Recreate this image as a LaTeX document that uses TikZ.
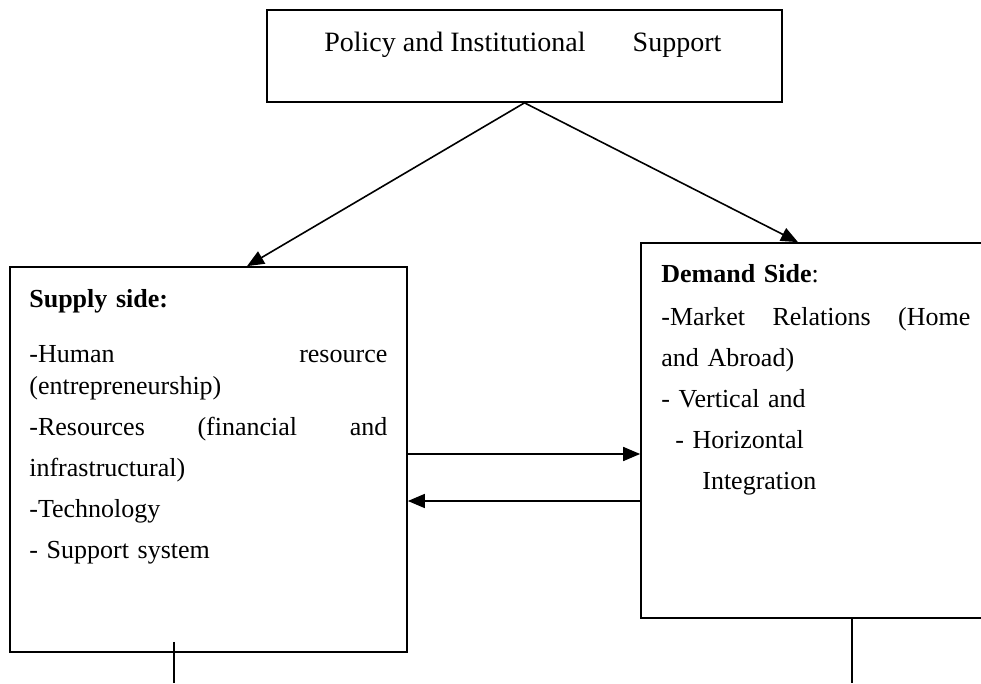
\documentclass[tikz,border=0pt]{standalone}
\usepackage{fontspec}
\setmainfont{Liberation Serif}
\usepackage{tikz}
\usetikzlibrary{arrows.meta,positioning,calc}

\begin{document}
\begin{tikzpicture}[
    x=1pt, y=1pt,
    box/.style={rectangle, draw, line width=1.7pt, inner sep=0pt},
    arr/.style={-{Triangle[length=17pt,width=14pt]}, line width=1.6pt},
    txt/.style={inner sep=0pt, anchor=base west, align=left, font=\fontsize{26}{41}\selectfont},
]
    \clip (0,0) rectangle (981,683);

    \node[box, minimum width=515pt, minimum height=92pt] (policy) at (524.5,627) {};
    \node[box, minimum width=397pt, minimum height=385pt] (supply) at (208.5,223.5) {};
    \node[box, minimum width=350pt, minimum height=375pt] (demand) at (816,252.5) {};

    \node[inner sep=0pt, anchor=base west, font=\fontsize{28}{34}\selectfont]
        (policytext) at ([xshift=58pt,yshift=-42pt]policy.north west)
        {Policy and Institutional\hspace{40pt} Support};
    \node[txt, text width=358pt] (supplytext) at ([xshift=20pt,yshift=-41pt]supply.north west)
        {\textbf{Supply side:}\\[14pt]
         -Human\hfill resource\\[-9pt]
         (entrepreneurship)\\
         -Resources\hfill (financial\hfill and\\
         infrastructural)\\
         -Technology\\
         - Support system};
    \node[txt, text width=309pt] (demandtext) at ([xshift=21pt,yshift=-40pt]demand.north west)
        {\textbf{Demand Side}:\\[2pt]
         -Market\hfill Relations\hfill (Home\\
         and Abroad)\\
         - Vertical and\\
         \hspace*{14pt}- Horizontal\\
         \hspace*{41pt}Integration};

    \coordinate (supplyout) at (174,0);
    \coordinate (demandout) at (852,0);

    \draw[arr] (policy.south) -- ([xshift=38.5pt]supply.north);
    \draw[arr] (policy.south) -- ([xshift=-18pt]demand.north);
    \draw[arr] ([yshift=5.5pt]supply.east) -- ([yshift=5.5pt]supply.east -| demand.west);
    \draw[arr] ([yshift=-41.5pt]supply.east -| demand.west) -- ([yshift=-41.5pt]supply.east);
    \draw[line width=1.6pt] ([yshift=11pt]supply.south -| supplyout) -- (supplyout);
    \draw[line width=1.6pt] (demand.south -| demandout) -- (demandout);
\end{tikzpicture}
\end{document}
